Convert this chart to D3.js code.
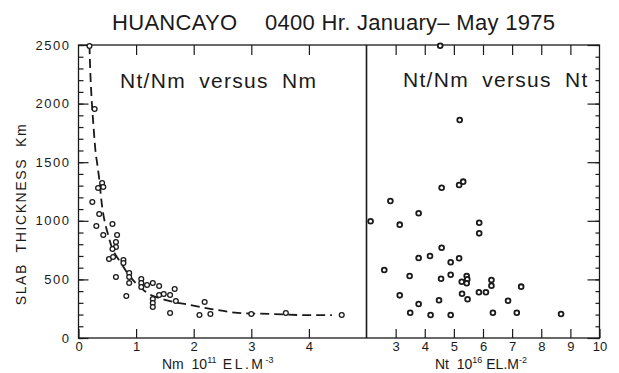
<!DOCTYPE html>
<html><head><meta charset="utf-8">
<script src="https://cdn.jsdelivr.net/npm/d3@7"></script>
<style>
body{margin:0;background:#fff}
svg text{font-family:"Liberation Sans",Arial,sans-serif;fill:#1a1a1a}
</style></head><body><svg id="c" width="619" height="373"></svg>
<script>
// ---- data ----
const nmTicks = [0, 1, 2, 3, 4];
const ntTicks = [3, 4, 5, 6, 7, 8, 9, 10];
const yTicks = [0, 500, 1000, 1500, 2000, 2500];

// Left panel: Nt/Nm (km) versus Nm (10^11 el m^-3)
const leftNm = [0.19,0.28,0.41,0.43,0.34,0.24,0.36,0.31,0.59,0.43,0.67,0.65,0.65,0.59,0.53,0.60,0.78,0.78,0.65,0.88,0.88,0.88,0.83,1.09,1.09,1.09,1.19,1.29,1.40,1.29,1.29,1.29,1.40,1.48,1.59,1.67,1.69,1.59,2.10,2.19,2.29,3.00,3.60,4.57];
const leftSlab = [2491,1954,1323,1288,1280,1160,1058,956,973,879,879,819,776,759,674,691,666,640,520,555,520,469,358,503,469,435,452,469,444,333,299,265,367,375,367,418,316,213,196,307,205,205,213,196];

// dashed fitted curve
const curveNm = [0.19,0.207,0.224,0.259,0.293,0.328,0.362,0.397,0.53,0.76,1.17,1.52,1.93,2.31,2.76,3.34,3.97,4.40];
const curveSlab = [2500,2244,2073,1817,1604,1476,1348,1177,853,623,392,324,282,247,215,205,195,195];

// Right panel: Nt/Nm (km) versus Nt (10^16 el m^-2)
const rightNt = [2.14,2.82,3.14,3.79,4.58,5.18,5.32,5.87,5.87,2.61,3.48,3.79,4.18,4.58,4.89,5.18,4.56,4.89,5.27,5.44,5.46,5.44,6.29,6.29,7.31,3.14,3.79,4.49,5.28,5.47,5.86,6.10,6.86,3.50,4.20,4.89,6.34,7.16,8.68,4.53,5.20];
const rightSlab = [996,1169,967,1064,1282,1305,1334,984,893,580,529,683,700,770,646,680,506,540,480,529,501,467,495,446,438,364,290,322,378,330,390,390,318,216,196,196,216,216,205,2494,1860];

// ---- layout ----
const svg = d3.select("#c");
const L = 78.5, D = 366.5, R = 599.5, T = 45, B = 338;
const xL = d3.scaleLinear().domain([0, 5]).range([L, D]);
const xR = d3.scaleLinear().domain([2, 10]).range([D, R]);
const y = d3.scaleLinear().domain([0, 2500]).range([B, T]);
const ink = "#1a1a1a";

// title
const tg = svg.append("g").attr("font-size", 22).attr("letter-spacing", 0.3);
tg.append("text").attr("x", 112).attr("y", 30).text("HUANCAYO");
tg.append("text").attr("x", 265).attr("y", 30).text("0400 Hr.");
tg.append("text").attr("x", 357).attr("y", 30).text("January– May 1975");

// frame
svg.append("rect").attr("x", L).attr("y", T).attr("width", R - L).attr("height", B - T)
  .attr("fill", "none").attr("stroke", ink).attr("stroke-width", 1.3);
svg.append("line").attr("x1", D).attr("x2", D).attr("y1", T).attr("y2", B)
  .attr("stroke", ink).attr("stroke-width", 1.6);

function style(g) {
  g.select(".domain").remove();
  g.selectAll(".tick line").attr("stroke", ink).attr("stroke-width", 1.2);
  g.selectAll(".tick text").attr("fill", ink).attr("font-size", 13)
    .attr("font-family", "Liberation Sans, Arial, sans-serif");
}

// bottom axes
svg.append("g").attr("transform", `translate(0,${B})`)
  .call(d3.axisBottom(xL).tickValues(nmTicks).tickSize(-9).tickPadding(4).tickFormat(d3.format("d")))
  .call(style);
svg.append("g").attr("transform", `translate(0,${B})`)
  .call(d3.axisBottom(xR).tickValues(ntTicks).tickSize(-9).tickPadding(4).tickFormat(d3.format("d")))
  .call(style);
// top axes (ticks only)
svg.append("g").attr("transform", `translate(0,${T})`)
  .call(d3.axisTop(xL).tickValues(nmTicks.filter(v => v > 0)).tickSize(-10).tickFormat(""))
  .call(style);
svg.append("g").attr("transform", `translate(0,${T})`)
  .call(d3.axisTop(xR).tickValues(ntTicks.filter(v => v < 10)).tickSize(-10).tickFormat(""))
  .call(style);

// left axis
const minor = d3.range(0, 2501, 100);
svg.append("g").attr("transform", `translate(${L},0)`)
  .call(d3.axisLeft(y).tickValues(minor).tickSize(-5).tickFormat(""))
  .call(style);
const ya = svg.append("g").attr("transform", `translate(${L},0)`)
  .call(d3.axisLeft(y).tickValues(yTicks).tickSize(-10).tickPadding(8).tickFormat(d3.format("d")))
  .call(style);
ya.selectAll(".tick text").attr("letter-spacing", 1.5);
// right axis
svg.append("g").attr("transform", `translate(${R},0)`)
  .call(d3.axisRight(y).tickValues(minor).tickSize(-4).tickFormat(""))
  .call(style);
svg.append("g").attr("transform", `translate(${R},0)`)
  .call(d3.axisRight(y).tickValues(yTicks).tickSize(-12).tickFormat(""))
  .call(style);

// axis titles
svg.append("text").attr("font-size", 14)
  .attr("transform", "translate(26,214) rotate(-90)")
  .attr("text-anchor", "middle").style("white-space", "pre")
  .attr("letter-spacing", 1.6)
  .text("SLAB  THICKNESS  Km");

function xTitle(x0, name, exp1, exp2, spaced) {
  const t = svg.append("text").attr("x", x0).attr("y", 369).attr("font-size", 14)
    .style("white-space", "pre");
  t.append("tspan").text(name + "  10");
  t.append("tspan").attr("font-size", 9).attr("dy", -6).text(exp1);
  t.append("tspan").attr("dy", 6).attr("letter-spacing", spaced).text(" EL.M");
  t.append("tspan").attr("font-size", 9).attr("dy", -6).text(exp2);
}
xTitle(162, "Nm", "11", "-3", 2.5);
xTitle(435, "Nt", "16", "-2", 0);

// panel labels
svg.append("text").attr("x", 120).attr("y", 88).attr("font-size", 21)
  .attr("word-spacing", 6).attr("letter-spacing", 1.3).text("Nt/Nm versus Nm");
svg.append("text").attr("x", 403).attr("y", 87).attr("font-size", 21)
  .attr("word-spacing", 6).attr("letter-spacing", 1.3).text("Nt/Nm versus Nt");

// dashed curve
const line = d3.line().x(d => xL(d[0])).y(d => y(d[1])).curve(d3.curveMonotoneX);
svg.append("path").datum(d3.zip(curveNm, curveSlab)).attr("d", line)
  .attr("fill", "none").attr("stroke", ink).attr("stroke-width", 1.8)
  .attr("stroke-dasharray", "9,5");

// points
svg.append("g").selectAll("circle").data(d3.zip(leftNm, leftSlab)).join("circle")
  .attr("cx", d => xL(d[0])).attr("cy", d => y(d[1])).attr("r", 2.4)
  .attr("fill", "#fff").attr("stroke", ink).attr("stroke-width", 1.3);
svg.append("g").selectAll("circle").data(d3.zip(rightNt, rightSlab)).join("circle")
  .attr("cx", d => xR(d[0])).attr("cy", d => y(d[1])).attr("r", 2.4)
  .attr("fill", "#fff").attr("stroke", ink).attr("stroke-width", 1.8);
</script></body></html>
